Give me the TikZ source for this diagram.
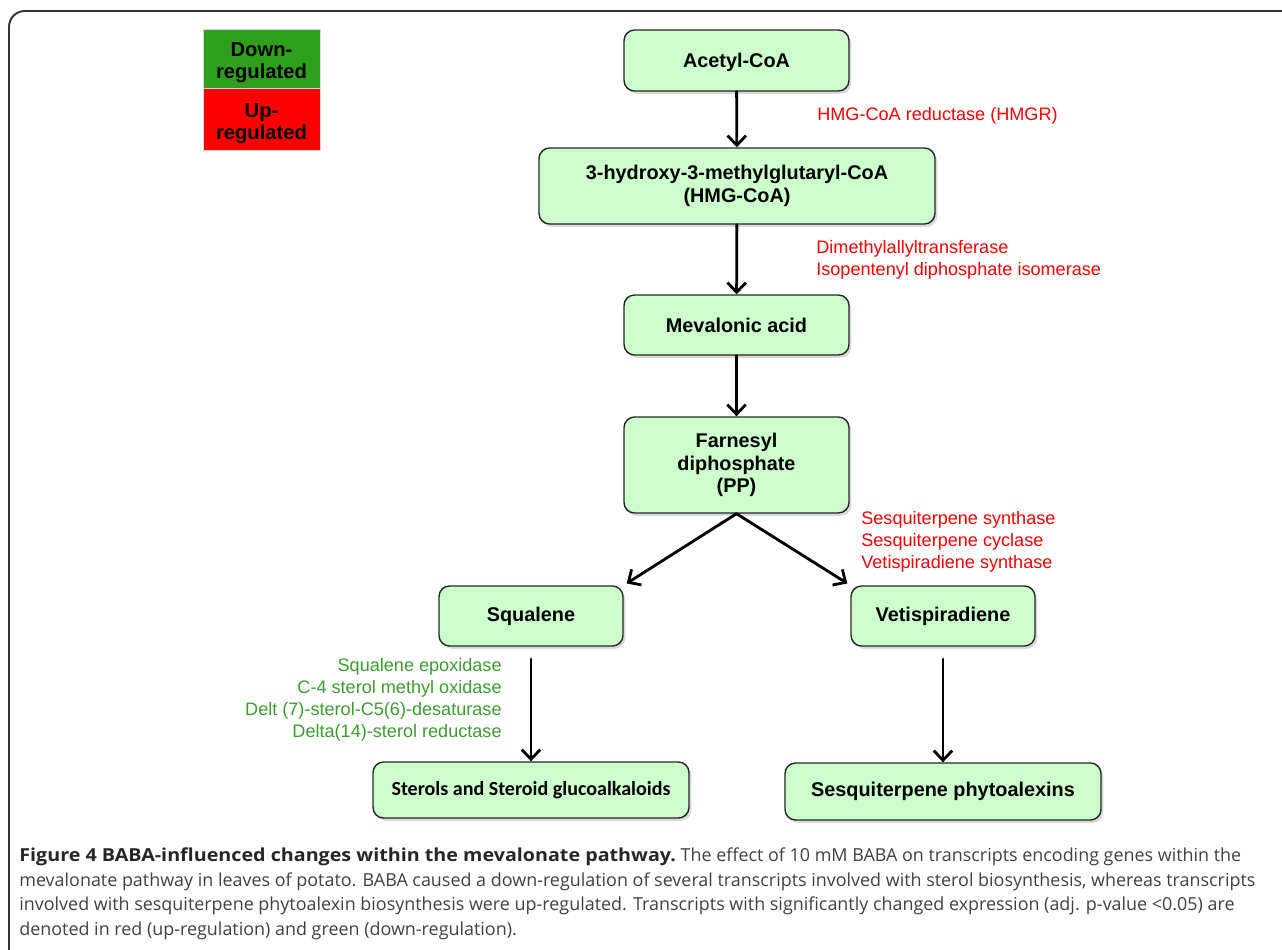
\documentclass[tikz,border=0pt]{standalone}
\usepackage{fontspec}
\setmainfont{Liberation Sans}
\newfontfamily\calfont{Carlito}
\newfontfamily\capfont{Open Sans}
\usetikzlibrary{arrows.meta, positioning, shadows}
\definecolor{boxfill}{HTML}{CCFFCC}
\definecolor{upred}{HTML}{FF0000}
\definecolor{keygreen}{HTML}{2EA01C}
\definecolor{enzgreen}{HTML}{3A9E2C}
\definecolor{captext}{HTML}{404040}
\definecolor{frame}{HTML}{333333}
\tikzset{
  >={Straight Barb[length=5.5pt, width=10.5pt]},
  every picture/.style={line cap=round, line join=round},
  metab/.style={draw=black!85, fill=boxfill, rounded corners=6pt, line width=0.8pt,
                align=center, inner sep=2pt,
                font=\fontsize{11.3}{12.8}\selectfont\bfseries,
                drop shadow={shadow xshift=1.3pt, shadow yshift=-1.6pt, opacity=0.3}},
  flow/.style={->, line width=1.6pt},
  enz/.style={inner sep=0pt, font=\fontsize{10.3}{12.5}\selectfont},
  enzup/.style={enz, text=upred, align=left, anchor=west},
  enzdown/.style={enz, text=enzgreen, align=right, anchor=east},
  key/.style={minimum width=2.34cm, align=center, inner sep=0pt, draw=black!15,
              font=\fontsize{11.5}{12.5}\selectfont\bfseries},
  capline/.style={anchor=base west, inner sep=0pt, text=captext,
              font=\capfont\fontsize{10.2}{12}\selectfont},
}
\newcommand\keytop{\rule{0pt}{13pt}}

\begin{document}
\begin{tikzpicture}[x=0.02cm, y=-0.02cm]
  \useasboundingbox (0,0) rectangle (1282,950);
  \clip (0,0) rectangle (1282,950);
  \draw[frame, line width=1.1pt, rounded corners=9pt] (9,11) rectangle (1310,980);
  % legend
  \node[key, fill=keygreen, minimum height=1.18cm] (kdown) at (261.5,58.5) {\keytop Down-\\regulated};
  \node[key, fill=upred, minimum height=1.24cm, below=0pt of kdown] (kup) {\keytop Up-\\regulated};
  % metabolites
  \node[metab, minimum width=4.5cm, minimum height=1.22cm, text depth=0pt] (acetyl) at (736.5,60.5) {Acetyl-CoA};
  \node[metab, minimum width=7.92cm, minimum height=1.52cm] (hmg) at (737,186) {3-hydroxy-3-methylglutaryl-CoA\\(HMG-CoA)};
  \node[metab, minimum width=4.5cm, minimum height=1.2cm] (mev) at (736.5,325) {Mevalonic acid};
  \node[metab, minimum width=4.5cm, minimum height=1.92cm] (farn) at (736.5,465) {Farnesyl\\diphosphate\\(PP)};
  \node[metab, minimum width=3.68cm, minimum height=1.2cm] (squal) at (531,616) {Squalene};
  \node[metab, minimum width=3.68cm, minimum height=1.2cm] (vetis) at (943,616) {Vetispiradiene};
  \node[metab, minimum width=6.32cm, minimum height=1.12cm, font=\calfont\fontsize{11.4}{13}\selectfont\bfseries] (sterol) at (531,790) {Sterols and Steroid glucoalkaloids};
  \node[metab, minimum width=6.32cm, minimum height=1.14cm] (phyto) at (943,791.5) {Sesquiterpene phytoalexins};
  % enzymes
  \node[enzup] (hmgr) at (817,116) {HMG-CoA reductase (HMGR)};
  \node[enzup] (dmat) at (816,260) {Dimethylallyltransferase\\Isopentenyl diphosphate isomerase};
  \node[enzup] (sesq) at (861,542) {Sesquiterpene synthase\\Sesquiterpene cyclase\\Vetispiradiene synthase};
  \node[enzdown] (sqep) at (502,700) {Squalene epoxidase\\C-4 sterol methyl oxidase\\Delt (7)-sterol-C5(6)-desaturase\\Delta(14)-sterol reductase};
  % pathway
  \draw[flow] (acetyl) -- (hmg);
  \draw[flow] (hmg) -- (mev);
  \draw[flow] (mev) -- (farn);
  \draw[flow, shorten >=2pt] (farn.south) -- (squal.north east);
  \draw[flow, shorten >=2pt] (farn.south) -- (vetis.north west);
  \draw[flow, shorten <=7pt] (squal) -- (sterol);
  \draw[flow, shorten <=7pt] (vetis) -- (phyto);
  % caption
  \node[capline] (cap1) at (19,861) {\scalebox{1.1}[1]{\textbf{\color{black!85}Figure 4 BABA-influenced changes within the mevalonate pathway.}} The effect of 10 mM BABA on transcripts encoding genes within the};
  \node[capline] (cap2) at (19,886) {mevalonate pathway in leaves of potato. BABA caused a down-regulation of several transcripts involved with sterol biosynthesis, whereas transcripts};
  \node[capline] (cap3) at (19,910) {involved with sesquiterpene phytoalexin biosynthesis were up-regulated. Transcripts with significantly changed expression (adj. p-value <0.05) are};
  \node[capline] (cap4) at (19,935) {denoted in red (up-regulation) and green (down-regulation).};
\end{tikzpicture}
\end{document}
